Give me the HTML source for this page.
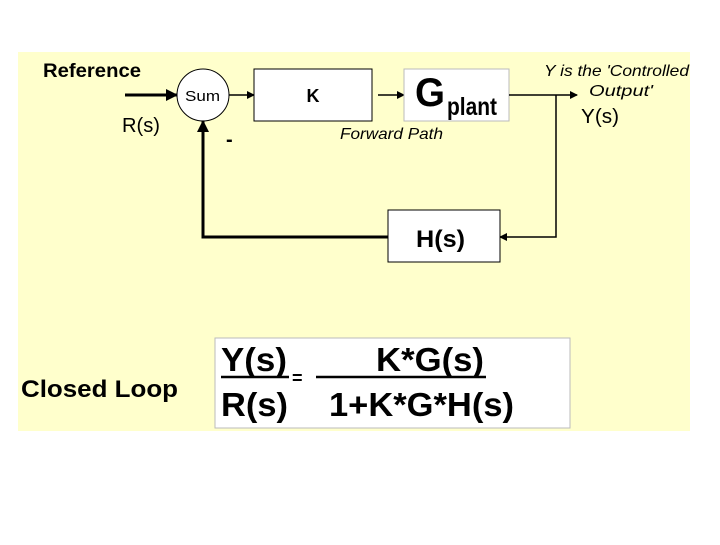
<!DOCTYPE html><html><head><style>body{margin:0;background:#fff}</style></head><body>
<svg width="720" height="540" xmlns="http://www.w3.org/2000/svg" font-family="Liberation Sans, sans-serif">
<defs><marker id="a" markerWidth="8" markerHeight="8" refX="7" refY="4" orient="auto" markerUnits="userSpaceOnUse"><path d="M0,0L8,4L0,8z" fill="#000"/></marker>
<marker id="b" markerWidth="12" markerHeight="12" refX="11" refY="6" orient="auto" markerUnits="userSpaceOnUse"><path d="M0,0L12,6L0,12z" fill="#000"/></marker></defs>
<rect x="18" y="52" width="672" height="379" fill="#ffffcc"/>
<text x="43" y="77" font-size="19" font-weight="bold" textLength="98" lengthAdjust="spacingAndGlyphs">Reference</text>
<text x="122" y="132" font-size="20" textLength="38" lengthAdjust="spacingAndGlyphs">R(s)</text>
<line x1="125" y1="95" x2="177" y2="95" stroke="#000" stroke-width="3" marker-end="url(#b)"/>
<ellipse cx="203" cy="95" rx="26" ry="26" fill="#fff" stroke="#000" stroke-width="1"/>
<text x="185" y="101" font-size="15" textLength="35" lengthAdjust="spacingAndGlyphs">Sum</text>
<line x1="229" y1="95" x2="254" y2="95" stroke="#000" stroke-width="1.5" marker-end="url(#a)"/>
<rect x="254" y="69" width="118" height="52" fill="#fff" stroke="#000"/>
<text x="313" y="102" font-size="18" font-weight="bold" text-anchor="middle">K</text>
<line x1="378" y1="95" x2="404" y2="95" stroke="#000" stroke-width="1.5" marker-end="url(#a)"/>
<rect x="404" y="69" width="105" height="52" fill="#fff" stroke="#bbb"/>
<text x="415" y="106" font-size="40" font-weight="bold" textLength="30" lengthAdjust="spacingAndGlyphs">G</text>
<text x="447" y="115" font-size="25" font-weight="bold" textLength="50" lengthAdjust="spacingAndGlyphs">plant</text>
<text x="340" y="139" font-size="16" font-style="italic" textLength="103" lengthAdjust="spacingAndGlyphs">Forward Path</text>
<text x="226" y="146" font-size="20" font-weight="bold">-</text>
<line x1="509" y1="95" x2="577" y2="95" stroke="#000" stroke-width="1.5" marker-end="url(#a)"/>
<polyline points="556,95 556,237 500,237" fill="none" stroke="#000" stroke-width="1.5" marker-end="url(#a)"/>
<text x="544" y="76" font-size="16" font-style="italic" textLength="145" lengthAdjust="spacingAndGlyphs">Y is the 'Controlled</text>
<text x="589" y="96" font-size="16" font-style="italic" textLength="64" lengthAdjust="spacingAndGlyphs">Output'</text>
<text x="581" y="123" font-size="20" textLength="38" lengthAdjust="spacingAndGlyphs">Y(s)</text>
<rect x="388" y="210" width="112" height="52" fill="#fff" stroke="#000"/>
<text x="416" y="247" font-size="24" font-weight="bold" textLength="49" lengthAdjust="spacingAndGlyphs">H(s)</text>
<polyline points="388,237 203,237 203,121" fill="none" stroke="#000" stroke-width="3" marker-end="url(#b)"/>
<text x="21" y="397" font-size="24" font-weight="bold" textLength="157" lengthAdjust="spacingAndGlyphs">Closed Loop</text>
<rect x="215" y="338" width="355" height="90" fill="#fff" stroke="#bbb"/>
<text x="221" y="371" font-size="33" font-weight="bold" textLength="66" lengthAdjust="spacingAndGlyphs">Y(s)</text>
<line x1="221" y1="377" x2="289" y2="377" stroke="#000" stroke-width="2.5"/>
<text x="292" y="384" font-size="18" font-weight="bold">=</text>
<line x1="316" y1="377" x2="486" y2="377" stroke="#000" stroke-width="2.5"/>
<text x="376" y="371" font-size="33" font-weight="bold" textLength="108" lengthAdjust="spacingAndGlyphs">K*G(s)</text>
<text x="221" y="416" font-size="33" font-weight="bold" textLength="67" lengthAdjust="spacingAndGlyphs">R(s)</text>
<text x="329" y="416" font-size="33" font-weight="bold" textLength="185" lengthAdjust="spacingAndGlyphs">1+K*G*H(s)</text>
</svg></body></html>
